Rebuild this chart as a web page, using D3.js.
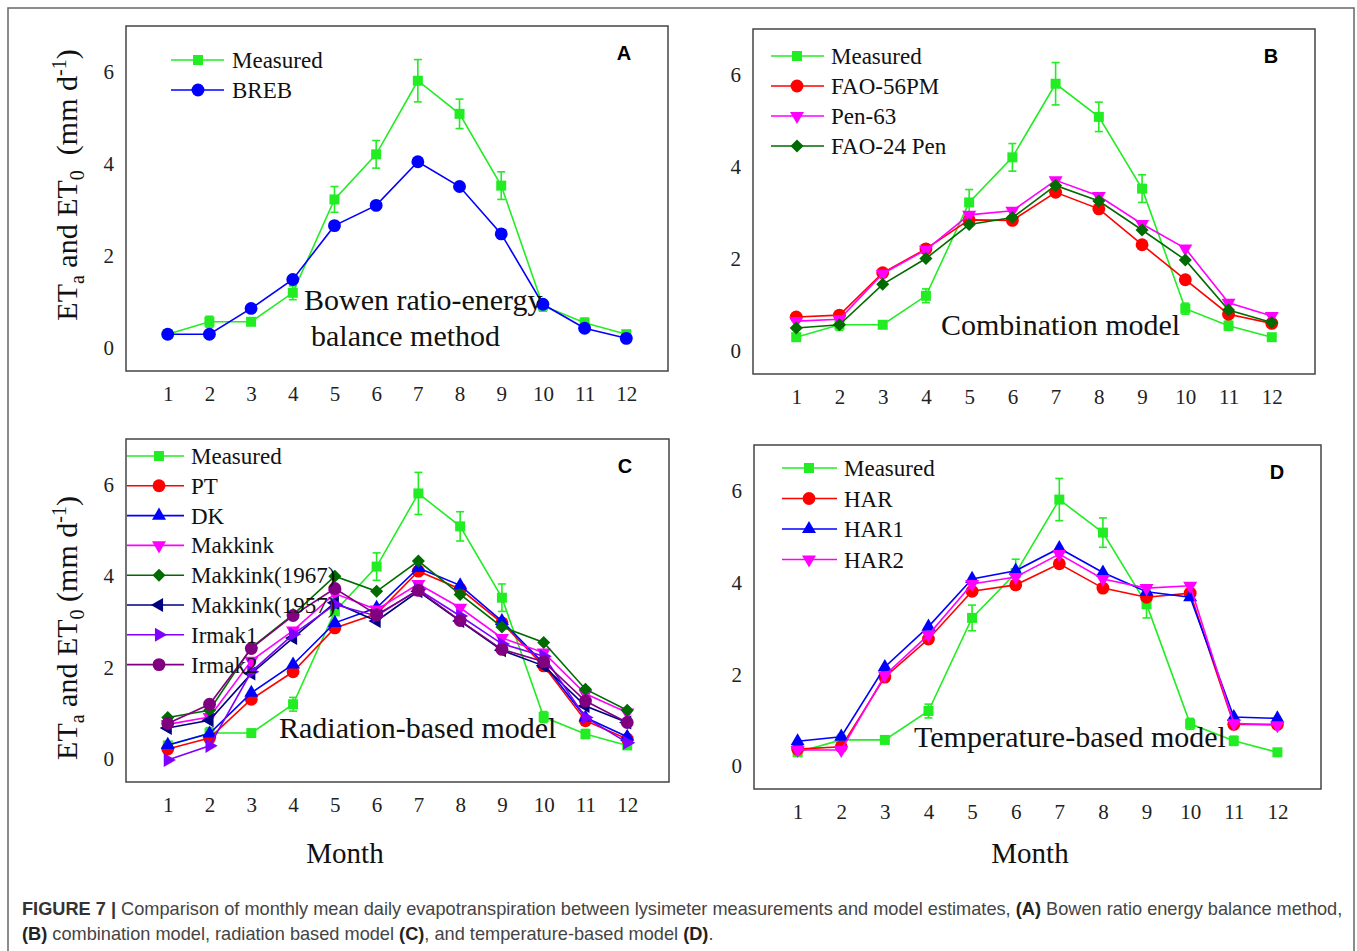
<!DOCTYPE html>
<html>
<head>
<meta charset="utf-8">
<script src="https://cdn.jsdelivr.net/npm/d3@7"></script>
<style>
  body { margin: 0; background: #fff; }
  text { font-family: "Liberation Serif", "Times New Roman", serif; }
</style>
</head>
<body>
<script>
// months and y ticks
var months = [1, 2, 3, 4, 5, 6, 7, 8, 9, 10, 11, 12];
var yTicks = [0, 2, 4, 6];

// lysimeter measurements (same in every panel) and their error bars
var measured    = [0.30, 0.57, 0.57, 1.20, 3.23, 4.21, 5.81, 5.09, 3.53, 0.92, 0.55, 0.30];
var measuredErr = [0.05, 0.12, 0.05, 0.15, 0.28, 0.30, 0.46, 0.32, 0.30, 0.12, 0.10, 0.05];

// (A) Bowen ratio-energy balance
var breb = [0.30, 0.30, 0.86, 1.49, 2.66, 3.10, 4.05, 3.51, 2.48, 0.95, 0.43, 0.21];

// (B) combination models
var fao56pm  = [0.74, 0.78, 1.70, 2.22, 2.85, 2.84, 3.45, 3.09, 2.31, 1.55, 0.80, 0.60];
var pen63    = [0.65, 0.69, 1.68, 2.20, 2.96, 3.05, 3.71, 3.37, 2.76, 2.23, 1.05, 0.76];
var fao24pen = [0.50, 0.57, 1.45, 2.01, 2.75, 2.90, 3.60, 3.26, 2.63, 1.98, 0.89, 0.62];

// (C) radiation-based models
var pt          = [0.22, 0.46, 1.31, 1.91, 2.87, 3.18, 4.11, 3.72, 2.98, 2.04, 0.84, 0.44];
var dk          = [0.31, 0.56, 1.45, 2.07, 2.98, 3.31, 4.18, 3.80, 3.02, 2.09, 0.91, 0.49];
var makkink     = [0.76, 0.92, 2.15, 2.81, 3.62, 3.27, 3.83, 3.31, 2.65, 2.33, 1.43, 1.02];
var makkink1967 = [0.91, 1.07, 2.44, 3.16, 4.00, 3.67, 4.33, 3.60, 2.89, 2.55, 1.53, 1.07];
var makkink1957 = [0.68, 0.85, 1.87, 2.65, 3.42, 3.02, 3.67, 3.02, 2.38, 2.04, 1.16, 0.80];
var irmak1      = [-0.02, 0.29, 1.91, 2.73, 3.38, 3.13, 3.71, 3.13, 2.52, 2.25, 0.91, 0.36];
var irmak2      = [0.78, 1.20, 2.42, 3.14, 3.73, 3.16, 3.69, 3.03, 2.40, 2.13, 1.27, 0.80];

// (D) temperature-based models
var har  = [0.37, 0.42, 1.94, 2.77, 3.81, 3.95, 4.41, 3.88, 3.68, 3.77, 0.91, 0.91];
var har1 = [0.54, 0.64, 2.16, 3.04, 4.08, 4.26, 4.75, 4.22, 3.80, 3.68, 1.07, 1.04];
var har2 = [0.35, 0.35, 1.98, 2.86, 3.97, 4.12, 4.62, 4.08, 3.88, 3.93, 0.93, 0.89];

var GREEN = "#22ec22";

var panels = [
  { letter: "A", left: 126, top: 26, right: 668, bottom: 371,
    legend: { x1: 171, x2: 224, xm: 198, xt: 232, y0: 60, dy: 30 },
    note: [{ t: "Bowen ratio-energy", x: 304, y: 310 }, { t: "balance method", x: 311, y: 346 }],
    series: [
      { name: "Measured", values: measured, err: measuredErr, color: GREEN, shape: "square" },
      { name: "BREB", values: breb, color: "#0000ff", shape: "circle" }
    ] },
  { letter: "B", left: 753, top: 29, right: 1315, bottom: 374,
    legend: { x1: 771, x2: 824, xm: 797, xt: 831, y0: 56, dy: 30 },
    note: [{ t: "Combination model", x: 941, y: 335 }],
    series: [
      { name: "Measured", values: measured, err: measuredErr, color: GREEN, shape: "square" },
      { name: "FAO-56PM", values: fao56pm, color: "#ff0000", shape: "circle" },
      { name: "Pen-63", values: pen63, color: "#ff00ff", shape: "down" },
      { name: "FAO-24 Pen", values: fao24pen, color: "#006b00", shape: "diamond" }
    ] },
  { letter: "C", left: 126, top: 439, right: 669, bottom: 782,
    legend: { x1: 127, x2: 184, xm: 159, xt: 191, y0: 456, dy: 29.8 },
    note: [{ t: "Radiation-based model", x: 279, y: 738 }],
    series: [
      { name: "Measured", values: measured, err: measuredErr, color: GREEN, shape: "square" },
      { name: "PT", values: pt, color: "#ff0000", shape: "circle" },
      { name: "DK", values: dk, color: "#0000ff", shape: "up" },
      { name: "Makkink", values: makkink, color: "#ff00ff", shape: "down" },
      { name: "Makkink(1967)", values: makkink1967, color: "#006b00", shape: "diamond" },
      { name: "Makkink(1957)", values: makkink1957, color: "#000080", shape: "left" },
      { name: "Irmak1", values: irmak1, color: "#8000ff", shape: "right" },
      { name: "Irmak2", values: irmak2, color: "#800080", shape: "circle" }
    ] },
  { letter: "D", left: 754, top: 445, right: 1321, bottom: 789,
    legend: { x1: 782, x2: 837, xm: 809, xt: 844, y0: 468, dy: 30.5 },
    note: [{ t: "Temperature-based model", x: 914, y: 747 }],
    series: [
      { name: "Measured", values: measured, err: measuredErr, color: GREEN, shape: "square" },
      { name: "HAR", values: har, color: "#ff0000", shape: "circle" },
      { name: "HAR1", values: har1, color: "#0000ff", shape: "up" },
      { name: "HAR2", values: har2, color: "#ff00ff", shape: "down" }
    ] }
];

var svg = d3.select("body").append("svg")
  .attr("width", 1357)
  .attr("height", 951);

// outer figure frame
svg.append("rect")
  .attr("x", 8).attr("y", 8)
  .attr("width", 1346).attr("height", 960)
  .attr("fill", "none")
  .attr("stroke", "#666")
  .attr("stroke-width", 1.5);

function markerPath(shape) {
  var sym;
  if (shape == "square") sym = d3.symbol().type(d3.symbolSquare).size(100);
  else if (shape == "circle") sym = d3.symbol().type(d3.symbolCircle).size(130);
  else if (shape == "diamond") sym = d3.symbol().type(d3.symbolSquare).size(85);
  else sym = d3.symbol().type(d3.symbolTriangle).size(85);
  return sym();
}
function markerRot(shape) {
  if (shape == "down") return 180;
  if (shape == "left") return -90;
  if (shape == "right") return 90;
  if (shape == "diamond") return 45;
  return 0;
}

function drawPanel(p) {
  var x = d3.scaleLinear().domain([0, 13]).range([p.left, p.right]);
  var y = d3.scaleLinear().domain([-0.5, 7]).range([p.bottom, p.top]);
  var g = svg.append("g");

  g.append("rect")
    .attr("x", p.left).attr("y", p.top)
    .attr("width", p.right - p.left).attr("height", p.bottom - p.top)
    .attr("fill", "none")
    .attr("stroke", "#444")
    .attr("stroke-width", 1.5);

  // axes: labels only, no tick marks
  var ya = g.append("g")
    .attr("transform", "translate(" + p.left + ",0)")
    .call(d3.axisLeft(y).tickValues(yTicks).tickSize(0).tickPadding(12));
  var xa = g.append("g")
    .attr("transform", "translate(0," + p.bottom + ")")
    .call(d3.axisBottom(x).tickValues(months).tickSize(0).tickPadding(15));
  [ya, xa].forEach(function(a) {
    a.select(".domain").remove();
    a.selectAll("text")
      .style("font-family", "'Liberation Serif', serif")
      .style("font-size", "21px")
      .attr("fill", "#222");
  });

  var line = d3.line()
    .x(function(d, i) { return x(months[i]); })
    .y(function(d) { return y(d); });

  p.series.forEach(function(s) {
    var sg = g.append("g");
    sg.append("path")
      .datum(s.values)
      .attr("d", line)
      .attr("fill", "none")
      .attr("stroke", s.color)
      .attr("stroke-width", 1.6);

    if (s.err) {
      var eb = sg.selectAll(".eb").data(s.values).enter().append("g");
      eb.append("line")
        .attr("x1", function(d, i) { return x(months[i]); })
        .attr("x2", function(d, i) { return x(months[i]); })
        .attr("y1", function(d, i) { return y(d - s.err[i]); })
        .attr("y2", function(d, i) { return y(d + s.err[i]); });
      eb.append("line")
        .attr("x1", function(d, i) { return x(months[i]) - 4; })
        .attr("x2", function(d, i) { return x(months[i]) + 4; })
        .attr("y1", function(d, i) { return y(d - s.err[i]); })
        .attr("y2", function(d, i) { return y(d - s.err[i]); });
      eb.append("line")
        .attr("x1", function(d, i) { return x(months[i]) - 4; })
        .attr("x2", function(d, i) { return x(months[i]) + 4; })
        .attr("y1", function(d, i) { return y(d + s.err[i]); })
        .attr("y2", function(d, i) { return y(d + s.err[i]); });
      eb.selectAll("line").attr("stroke", s.color).attr("stroke-width", 1.6);
    }

    sg.selectAll(".pt").data(s.values).enter().append("path")
      .attr("d", markerPath(s.shape))
      .attr("transform", function(d, i) {
        return "translate(" + x(months[i]) + "," + y(d) + ") rotate(" + markerRot(s.shape) + ")";
      })
      .attr("fill", s.color);
  });

  // legend
  var L = p.legend;
  p.series.forEach(function(s, k) {
    var ly = L.y0 + k * L.dy;
    g.append("line")
      .attr("x1", L.x1).attr("x2", L.x2)
      .attr("y1", ly).attr("y2", ly)
      .attr("stroke", s.color).attr("stroke-width", 1.6);
    g.append("path")
      .attr("d", markerPath(s.shape))
      .attr("transform", "translate(" + L.xm + "," + ly + ") rotate(" + markerRot(s.shape) + ")")
      .attr("fill", s.color);
    g.append("text")
      .attr("x", L.xt).attr("y", ly)
      .attr("dy", "0.35em")
      .style("font-size", "23px")
      .attr("fill", "#111")
      .text(s.name);
  });

  // panel letter
  g.append("text")
    .attr("x", p.right - 44).attr("y", p.top + 27)
    .attr("dy", "0.35em")
    .attr("text-anchor", "middle")
    .style("font-family", "'Liberation Sans', Arial, sans-serif")
    .style("font-weight", "bold")
    .style("font-size", "20px")
    .text(p.letter);

  // method name inside the plot
  p.note.forEach(function(n) {
    g.append("text")
      .attr("x", n.x).attr("y", n.y)
      .style("font-size", "30px")
      .attr("fill", "#111")
      .text(n.t);
  });
}

panels.forEach(drawPanel);

// y axis titles for the left column (top one has a wider gap before the unit)
[[185, " \u00a0(mm d"], [628, " (mm d"]].forEach(function(a) {
  var t = svg.append("text")
    .attr("transform", "translate(77," + a[0] + ") rotate(-90)")
    .attr("text-anchor", "middle")
    .style("font-size", "30px")
    .attr("fill", "#111");
  t.append("tspan").text("ET");
  t.append("tspan").attr("dy", 7).style("font-size", "20px").text("a");
  t.append("tspan").attr("dy", -7).text(" and ET");
  t.append("tspan").attr("dy", 7).style("font-size", "20px").text("0");
  t.append("tspan").attr("dy", -7).text(a[1]);
  t.append("tspan").attr("dy", -11).style("font-size", "20px").text("-1");
  t.append("tspan").attr("dy", 11).text(")");
});

// x axis titles
[345, 1030].forEach(function(cx) {
  svg.append("text")
    .attr("x", cx).attr("y", 863)
    .attr("text-anchor", "middle")
    .style("font-size", "29px")
    .attr("fill", "#111")
    .text("Month");
});

// caption
var capFont = "'Liberation Sans Narrow', 'Arial Narrow', 'Liberation Sans', sans-serif";
var cap1 = svg.append("text").attr("x", 22).attr("y", 915)
  .style("font-family", capFont).style("font-size", "18.2px").attr("fill", "#444");
cap1.append("tspan").style("font-weight", "bold").attr("fill", "#333").text("FIGURE 7 | ");
cap1.append("tspan").text("Comparison of monthly mean daily evapotranspiration between lysimeter measurements and model estimates, ");
cap1.append("tspan").style("font-weight", "bold").attr("fill", "#222").text("(A)");
cap1.append("tspan").text(" Bowen ratio energy balance method,");

var cap2 = svg.append("text").attr("x", 22).attr("y", 940)
  .style("font-family", capFont).style("font-size", "18.2px").attr("fill", "#444");
cap2.append("tspan").style("font-weight", "bold").attr("fill", "#222").text("(B)");
cap2.append("tspan").text(" combination model, radiation based model ");
cap2.append("tspan").style("font-weight", "bold").attr("fill", "#222").text("(C)");
cap2.append("tspan").text(", and temperature-based model ");
cap2.append("tspan").style("font-weight", "bold").attr("fill", "#222").text("(D)");
cap2.append("tspan").text(".");
</script>
</body>
</html>
